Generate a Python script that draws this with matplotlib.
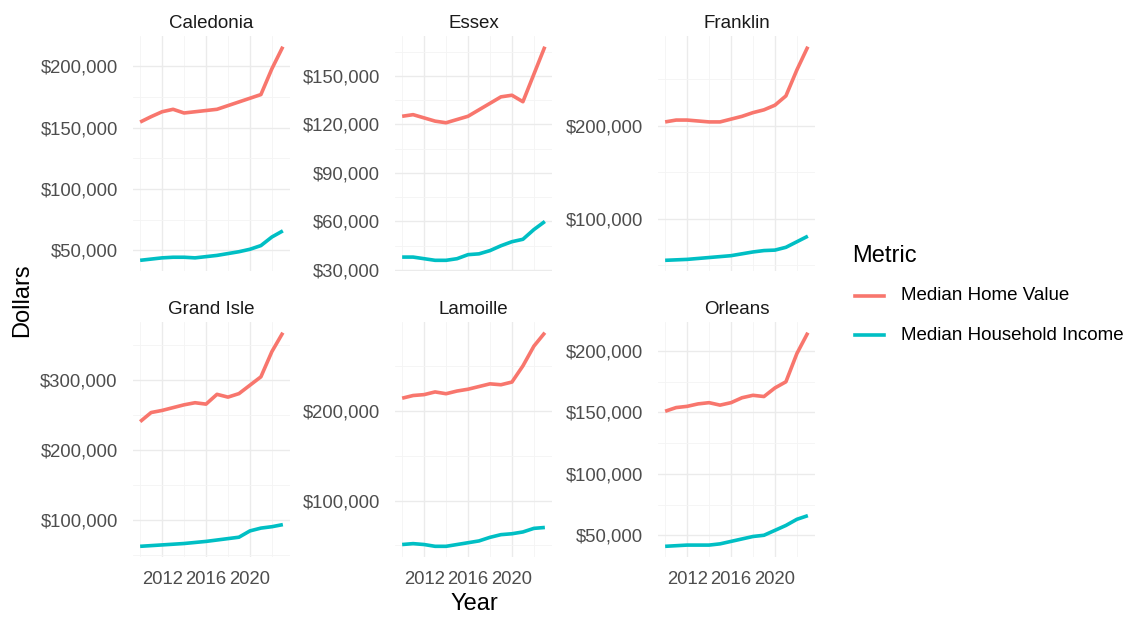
import numpy as np
import matplotlib.pyplot as plt
from matplotlib.ticker import FuncFormatter, MultipleLocator

years = list(range(2010, 2024))

counties = ["Caledonia", "Essex", "Franklin", "Grand Isle", "Lamoille", "Orleans"]

# median home value by county, thousands of dollars
home_value = {
    "Caledonia":  [154.6, 159, 163, 165, 162, 163, 164, 165, 168, 171, 174, 177, 198, 216],
    "Essex":      [125, 126, 124, 122, 121, 123, 125, 129, 133, 137, 138, 134, 151, 168],
    "Franklin":   [204, 206, 206, 205, 204, 204, 207, 210, 214, 217, 222, 232, 260, 285],
    "Grand Isle": [240, 253, 256, 260, 264, 267, 265, 279, 275, 280, 292, 304, 340, 367],
    "Lamoille":   [214, 217, 218, 221, 219, 222, 224, 227, 230, 229, 232, 250, 272, 287],
    "Orleans":    [151, 154, 155, 157, 158, 156, 158, 162, 164, 163, 170, 175, 198, 215],
}

# median household income by county, thousands of dollars
household_income = {
    "Caledonia":  [42, 43, 44, 44.5, 44.5, 44, 45, 46, 47.5, 49, 51, 54, 61, 66],
    "Essex":      [38, 38, 37, 36, 36, 37, 39.5, 40, 42, 45, 47.5, 49, 55, 60],
    "Franklin":   [55, 55.5, 56, 57, 58, 59, 60, 62, 64, 65.5, 66, 69, 75, 81],
    "Grand Isle": [62, 63, 64, 65, 66, 67.5, 69, 71, 73, 75, 84, 88, 90, 93],
    "Lamoille":   [51, 52, 51, 49, 49, 51, 53, 55, 59, 62, 63, 65, 69, 70],
    "Orleans":    [41, 41.5, 42, 42, 42, 43, 45, 47, 49, 50, 54, 58, 63, 66],
}

metrics = ["Median Home Value", "Median Household Income"]
colors = ["#F8766D", "#00BFC4"]

# y tick spacing per panel (dollars)
y_steps = {"Caledonia": 50000, "Essex": 30000, "Franklin": 100000,
           "Grand Isle": 100000, "Lamoille": 100000, "Orleans": 50000}

plt.rcParams['font.family'] = ['Liberation Sans', 'DejaVu Sans']

W, H = 1137, 618
fig = plt.figure(figsize=(W / 100, H / 100), dpi=100)

col_left = [133, 395, 658]
row_top = [36, 322]
pw, ph = 157, 235

dollar_fmt = FuncFormatter(lambda v, p: "${:,.0f}".format(v))

for i, county in enumerate(counties):
    r, c = divmod(i, 3)
    ax = fig.add_axes([col_left[c] / W, 1 - (row_top[r] + ph) / H, pw / W, ph / H])
    for series, col in zip([home_value, household_income], colors):
        vals = np.array(series[county]) * 1000
        ax.plot(years, vals, color=col, linewidth=2.6, solid_capstyle='butt')

    ax.set_xlim(2009.35, 2023.65)
    lo = min(household_income[county]) * 1000
    hi = max(home_value[county]) * 1000
    pad = (hi - lo) * 0.05
    ax.set_ylim(lo - pad, hi + pad)

    ax.set_xticks([2012, 2016, 2020])
    ax.xaxis.set_minor_locator(MultipleLocator(2))
    ax.yaxis.set_major_locator(MultipleLocator(y_steps[county]))
    ax.yaxis.set_minor_locator(MultipleLocator(y_steps[county] / 2))
    ax.yaxis.set_major_formatter(dollar_fmt)

    ax.grid(True, which='major', color='#EBEBEB', linewidth=1.0)
    ax.grid(True, which='minor', color='#F4F4F4', linewidth=0.6)
    ax.set_axisbelow(True)
    for s in ax.spines.values():
        s.set_visible(False)
    ax.tick_params(which='both', length=0)
    ax.tick_params(axis='y', pad=11, labelsize=13.3, labelcolor='#4D4D4D')
    ax.tick_params(axis='x', pad=10, labelsize=13.3, labelcolor='#4D4D4D')
    if r == 0:
        ax.set_xticklabels([])
    ax.set_title(county, fontsize=13.5, color='#1A1A1A', pad=6)

fig.text(22 / W, 1 - 300 / H, "Dollars", rotation=90, ha='center', va='center',
         fontsize=17, color='black')
fig.text(474 / W, 1 - 604 / H, "Year", ha='center', va='center',
         fontsize=17, color='black')

# legend
fig.text(852 / W, 1 - 256 / H, "Metric", ha='left', va='center', fontsize=17, color='black')
for k, (label, col) in enumerate(zip(metrics, colors)):
    yk = 1 - (296 + 39 * k) / H
    fig.add_artist(plt.Line2D([855 / W, 884 / W], [yk, yk], color=col, linewidth=2.6,
                              transform=fig.transFigure))
    fig.text(901 / W, yk, label, ha='left', va='center', fontsize=13.5, color='black')

fig.savefig("out.png", dpi=100, facecolor='white')
